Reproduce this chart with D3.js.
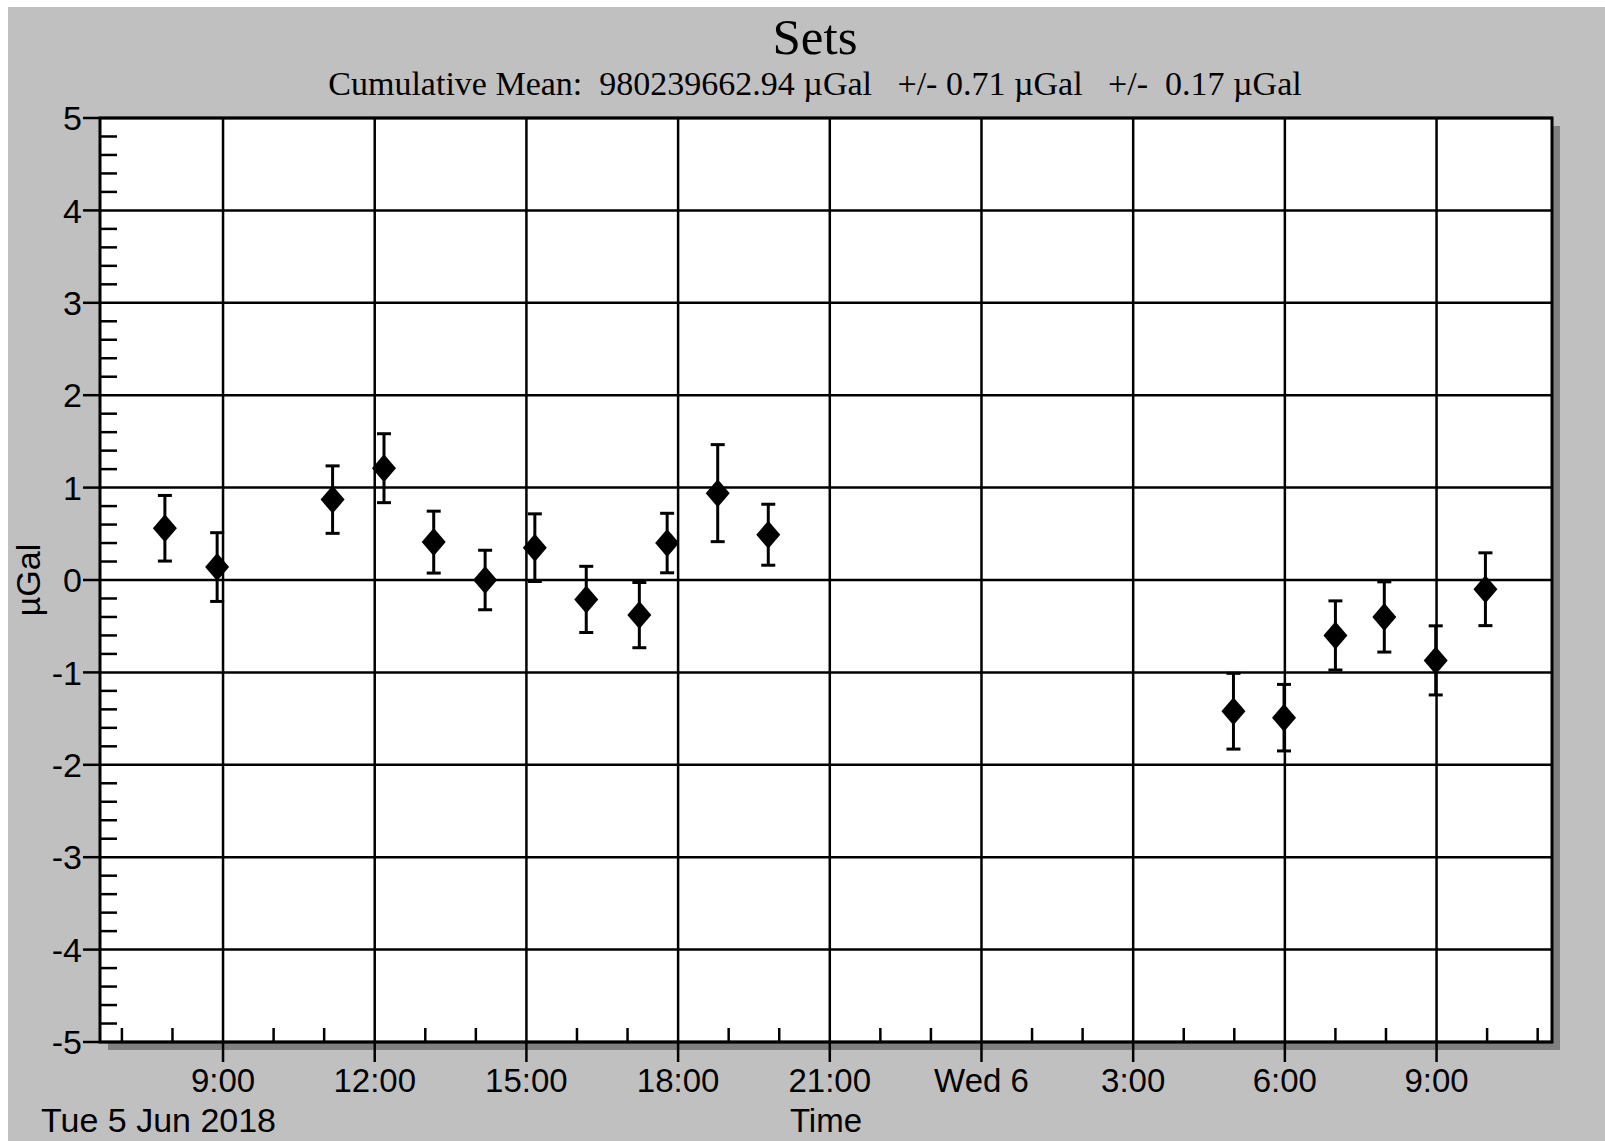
<!DOCTYPE html>
<html>
<head>
<meta charset="utf-8">
<script src="https://cdn.jsdelivr.net/npm/d3@7"></script>
<style>
  html, body { margin: 0; padding: 0; background: #ffffff; }
  svg { display: block; }
</style>
</head>
<body>
<svg id="chart" width="1605" height="1141"></svg>
<script>
// ---- data ----
const setTimes = [
  "2018-06-05T07:51", "2018-06-05T08:53", "2018-06-05T11:10", "2018-06-05T12:11",
  "2018-06-05T13:10", "2018-06-05T14:11", "2018-06-05T15:10", "2018-06-05T16:11",
  "2018-06-05T17:14", "2018-06-05T17:47", "2018-06-05T18:47", "2018-06-05T19:47",
  "2018-06-06T04:59", "2018-06-06T05:59", "2018-06-06T07:00", "2018-06-06T07:58",
  "2018-06-06T08:59", "2018-06-06T09:58"
];
const setValues = [0.56, 0.14, 0.87, 1.21, 0.41, 0.00, 0.35, -0.21, -0.38, 0.40, 0.94, 0.49,
                   -1.42, -1.49, -0.60, -0.40, -0.87, -0.10];
const setErrors = [0.355, 0.372, 0.365, 0.373, 0.335, 0.322, 0.366, 0.358, 0.353, 0.322, 0.525, 0.33,
                   0.41, 0.36, 0.374, 0.38, 0.374, 0.394];

const xDomain = ["2018-06-05T06:34", "2018-06-06T11:17"];
const xMajorTicks = ["2018-06-05T09:00", "2018-06-05T12:00", "2018-06-05T15:00", "2018-06-05T18:00",
                     "2018-06-05T21:00", "2018-06-06T00:00", "2018-06-06T03:00", "2018-06-06T06:00",
                     "2018-06-06T09:00"];
const xMajorLabels = ["9:00", "12:00", "15:00", "18:00", "21:00", "Wed 6", "3:00", "6:00", "9:00"];
const yDomain = [-5, 5];
const yMajorTicks = [-5, -4, -3, -2, -1, 0, 1, 2, 3, 4, 5];

const titleText = "Sets";
const subtitleText = "Cumulative Mean:  980239662.94 \u00B5Gal   +/- 0.71 \u00B5Gal   +/-  0.17 \u00B5Gal";
const yTitle = "\u00B5Gal";
const xTitle = "Time";
const dateLabel = "Tue 5 Jun 2018";

// ---- layout ----
const parse = s => new Date(s + ":00Z");
const L = 100, R = 1552, T = 118, B = 1042;

const svg = d3.select("#chart");
const sans = "'Liberation Sans', Arial, sans-serif";
const serif = "'Liberation Serif', 'Times New Roman', serif";

// background
svg.append("rect").attr("x", 0).attr("y", 0).attr("width", 1605).attr("height", 1141).attr("fill", "#ffffff");
svg.append("rect").attr("x", 8).attr("y", 7).attr("width", 1597).attr("height", 1134).attr("fill", "#c0c0c0");

const x = d3.scaleUtc().domain(xDomain.map(parse)).range([L, R]);
const y = d3.scaleLinear().domain(yDomain).range([B, T]);

// shadow + plot area
svg.append("rect").attr("x", L + 8).attr("y", T + 8).attr("width", R - L).attr("height", B - T).attr("fill", "#808080");
svg.append("rect").attr("x", L).attr("y", T).attr("width", R - L).attr("height", B - T).attr("fill", "#ffffff");

// horizontal grid
svg.append("g").selectAll("line").data(yMajorTicks).join("line")
  .attr("x1", L).attr("x2", R).attr("y1", d => y(d)).attr("y2", d => y(d))
  .attr("stroke", "#000").attr("stroke-width", 2.5);

// vertical grid + major ticks below
const majors = xMajorTicks.map(parse);
svg.append("g").selectAll("line").data(majors).join("line")
  .attr("x1", d => x(d)).attr("x2", d => x(d)).attr("y1", T).attr("y2", B + 20)
  .attr("stroke", "#000").attr("stroke-width", 2.5);

// minor x ticks (hourly)
const hours = d3.utcHour.range(x.domain()[0], x.domain()[1]).filter(d => d.getUTCHours() % 3 !== 0);
svg.append("g").selectAll("line").data(hours).join("line")
  .attr("x1", d => x(d)).attr("x2", d => x(d)).attr("y1", B - 14).attr("y2", B)
  .attr("stroke", "#000").attr("stroke-width", 2.5);

// minor y ticks
const yMinor = d3.range(-50, 51, 2).map(v => v / 10).filter(v => Math.abs(v - Math.round(v)) > 1e-6);
svg.append("g").selectAll("line").data(yMinor).join("line")
  .attr("x1", L).attr("x2", L + 17).attr("y1", d => y(d)).attr("y2", d => y(d))
  .attr("stroke", "#000").attr("stroke-width", 2.5);

// major y ticks outside
svg.append("g").selectAll("line").data(yMajorTicks).join("line")
  .attr("x1", L - 17).attr("x2", L).attr("y1", d => y(d)).attr("y2", d => y(d))
  .attr("stroke", "#000").attr("stroke-width", 2.5);

// border
svg.append("rect").attr("x", L).attr("y", T).attr("width", R - L).attr("height", B - T)
  .attr("fill", "none").attr("stroke", "#000").attr("stroke-width", 3);

// y labels
svg.append("g").selectAll("text").data(yMajorTicks).join("text")
  .attr("x", L - 18).attr("y", d => y(d)).attr("dy", "0.36em")
  .attr("text-anchor", "end").attr("font-family", sans).attr("font-size", 34)
  .text(d => d);

// x labels
svg.append("g").selectAll("text").data(majors).join("text")
  .attr("x", d => x(d)).attr("y", 1092)
  .attr("text-anchor", "middle").attr("font-family", sans).attr("font-size", 33)
  .text((d, i) => xMajorLabels[i]);

svg.append("text").attr("x", 41).attr("y", 1132).attr("font-family", sans).attr("font-size", 34).text(dateLabel);
svg.append("text").attr("x", (L + R) / 2).attr("y", 1132).attr("text-anchor", "middle")
  .attr("font-family", sans).attr("font-size", 33).text(xTitle);
svg.append("text").attr("transform", `translate(40, ${y(0)}) rotate(-90)`).attr("text-anchor", "middle")
  .attr("font-family", sans).attr("font-size", 34).text(yTitle);

// titles
svg.append("text").attr("x", 815).attr("y", 54).attr("text-anchor", "middle")
  .attr("font-family", serif).attr("font-size", 51).text(titleText);
svg.append("text").attr("x", 815).attr("y", 95).attr("text-anchor", "middle")
  .attr("font-family", serif).attr("font-size", 34).style("white-space", "pre").text(subtitleText);

// data
const data = setTimes.map((t, i) => ({ t: parse(t), v: setValues[i], e: setErrors[i] }));
const g = svg.append("g");
const cap = 7;
g.selectAll("line.eb").data(data).join("line").attr("class", "eb")
  .attr("x1", d => x(d.t)).attr("x2", d => x(d.t)).attr("y1", d => y(d.v + d.e)).attr("y2", d => y(d.v - d.e))
  .attr("stroke", "#000").attr("stroke-width", 3);
g.selectAll("line.ct").data(data).join("line").attr("class", "ct")
  .attr("x1", d => x(d.t) - cap).attr("x2", d => x(d.t) + cap).attr("y1", d => y(d.v + d.e)).attr("y2", d => y(d.v + d.e))
  .attr("stroke", "#000").attr("stroke-width", 3);
g.selectAll("line.cb").data(data).join("line").attr("class", "cb")
  .attr("x1", d => x(d.t) - cap).attr("x2", d => x(d.t) + cap).attr("y1", d => y(d.v - d.e)).attr("y2", d => y(d.v - d.e))
  .attr("stroke", "#000").attr("stroke-width", 3);
g.selectAll("path.dm").data(data).join("path").attr("class", "dm")
  .attr("d", d => { const cx = x(d.t), cy = y(d.v); return `M${cx},${cy - 14}L${cx + 12},${cy}L${cx},${cy + 14}L${cx - 12},${cy}Z`; })
  .attr("fill", "#000");
</script>
</body>
</html>
